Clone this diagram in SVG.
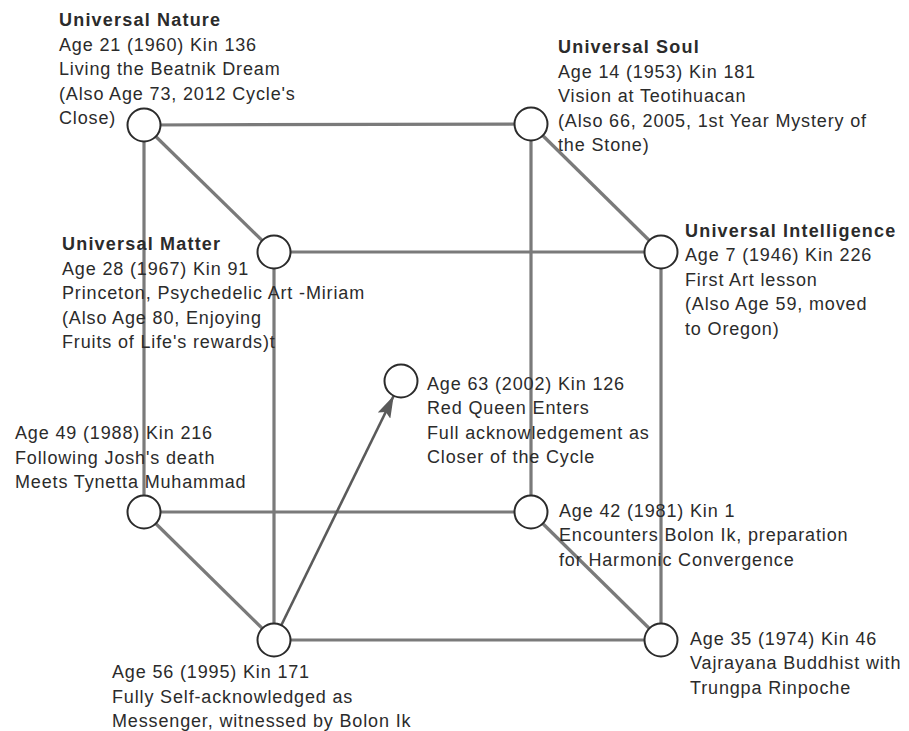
<svg xmlns="http://www.w3.org/2000/svg" width="909" height="731" viewBox="0 0 909 731">
<style>
.edge{stroke:#7a7a7a;stroke-width:3.2;fill:none}
.arrow{stroke:#5a5a5a;stroke-width:2.6;fill:none}
.node{fill:#fff;stroke:#2b2b2b;stroke-width:2}
text{font-family:"Liberation Sans",Arial,sans-serif;font-size:18px;fill:#2b2b2b;letter-spacing:0.85px}
.t{font-weight:bold;letter-spacing:1.2px}
</style>
<defs>
<marker id="ah" viewBox="0 0 22 14" markerWidth="22" markerHeight="14" refX="22" refY="7" orient="auto" markerUnits="userSpaceOnUse">
<path d="M0,0 L22,7 L0,14 L4,7 Z" fill="#5a5a5a"/>
</marker>
</defs>
<rect width="909" height="731" fill="#fff"/>
<g id="connectors">
<line class="edge" x1="144" y1="125" x2="531" y2="124"/>
<line class="edge" x1="144" y1="125" x2="274" y2="252"/>
<line class="edge" x1="144" y1="125" x2="144" y2="512"/>
<line class="edge" x1="531" y1="124" x2="661" y2="252"/>
<line class="edge" x1="531" y1="124" x2="531" y2="512"/>
<line class="edge" x1="274" y1="252" x2="661" y2="252"/>
<line class="edge" x1="274" y1="252" x2="274" y2="640"/>
<line class="edge" x1="661" y1="252" x2="661" y2="640"/>
<line class="edge" x1="144" y1="512" x2="531" y2="512"/>
<line class="edge" x1="144" y1="512" x2="274" y2="640"/>
<line class="edge" x1="531" y1="512" x2="661" y2="640"/>
<line class="edge" x1="274" y1="640" x2="661" y2="640"/>
<line class="arrow" x1="281.3" y1="625.2" x2="393.7" y2="395.8" marker-end="url(#ah)"/>
</g>
<g id="nature">
<circle class="node" cx="144" cy="125" r="16.5"/>
<text x="59" y="26"><tspan class="t">Universal Nature</tspan><tspan x="59" dy="24.5">Age 21 (1960) Kin 136</tspan><tspan x="59" dy="24.5">Living the Beatnik Dream</tspan><tspan x="59" dy="24.5">(Also Age 73, 2012 Cycle's</tspan><tspan x="59" dy="24.5">Close)</tspan></text>
</g>
<g id="soul">
<circle class="node" cx="531" cy="124" r="16.5"/>
<text x="558" y="53"><tspan class="t">Universal Soul</tspan><tspan x="558" dy="24.5">Age 14 (1953) Kin 181</tspan><tspan x="558" dy="24.5">Vision at Teotihuacan</tspan><tspan x="558" dy="24.5">(Also 66, 2005, 1st Year Mystery of</tspan><tspan x="558" dy="24.5">the Stone)</tspan></text>
</g>
<g id="matter">
<circle class="node" cx="274" cy="252" r="16.5"/>
<text x="62" y="250"><tspan class="t">Universal Matter</tspan><tspan x="62" dy="24.5">Age 28 (1967) Kin 91</tspan><tspan x="62" dy="24.5">Princeton, Psychedelic Art -Miriam</tspan><tspan x="62" dy="24.5">(Also Age 80, Enjoying</tspan><tspan x="62" dy="24.5">Fruits of Life's rewards)t</tspan></text>
</g>
<g id="intelligence">
<circle class="node" cx="661" cy="252" r="16.5"/>
<text x="685" y="236.5"><tspan class="t">Universal Intelligence</tspan><tspan x="685" dy="24.5">Age 7 (1946) Kin 226</tspan><tspan x="685" dy="24.5">First Art lesson</tspan><tspan x="685" dy="24.5">(Also Age 59, moved</tspan><tspan x="685" dy="24.5">to Oregon)</tspan></text>
</g>
<g id="age63">
<circle class="node" cx="401" cy="381" r="16.5"/>
<text x="427" y="389.5"><tspan>Age 63 (2002) Kin 126</tspan><tspan x="427" dy="24.5">Red Queen Enters</tspan><tspan x="427" dy="24.5">Full acknowledgement as</tspan><tspan x="427" dy="24.5">Closer of the Cycle</tspan></text>
</g>
<g id="age49">
<circle class="node" cx="144" cy="512" r="16.5"/>
<text x="15" y="439"><tspan>Age 49 (1988) Kin 216</tspan><tspan x="15" dy="24.5">Following Josh's death</tspan><tspan x="15" dy="24.5">Meets Tynetta Muhammad</tspan></text>
</g>
<g id="age42">
<circle class="node" cx="531" cy="512" r="16.5"/>
<text x="559" y="516.5"><tspan>Age 42 (1981) Kin 1</tspan><tspan x="559" dy="24.5">Encounters Bolon Ik, preparation</tspan><tspan x="559" dy="24.5">for Harmonic Convergence</tspan></text>
</g>
<g id="age56">
<circle class="node" cx="274" cy="640" r="16.5"/>
<text x="112" y="678"><tspan>Age 56 (1995) Kin 171</tspan><tspan x="112" dy="24.5">Fully Self-acknowledged as</tspan><tspan x="112" dy="24.5">Messenger, witnessed by Bolon Ik</tspan></text>
</g>
<g id="age35">
<circle class="node" cx="661" cy="640" r="16.5"/>
<text x="690" y="644.5"><tspan>Age 35 (1974) Kin 46</tspan><tspan x="690" dy="24.5">Vajrayana Buddhist with</tspan><tspan x="690" dy="24.5">Trungpa Rinpoche</tspan></text>
</g>
</svg>
